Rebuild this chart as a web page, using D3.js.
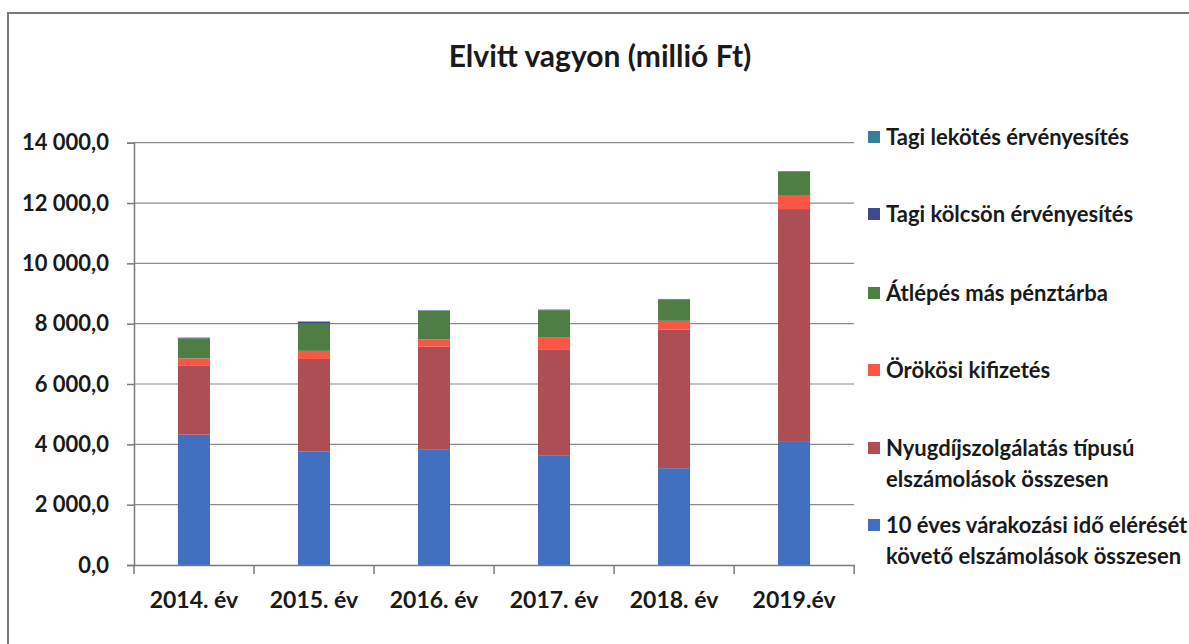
<!DOCTYPE html>
<html>
<head>
  <meta charset="utf-8">
  <script src="https://d3js.org/d3.v7.min.js"></script>
  <style>
    body { margin: 0; background: #fff; }
    text { font-family: Lato, "Open Sans", sans-serif; fill: #1a1a1a; }
  </style>
</head>
<body>
<script>
  // years on the x axis
  var years = ["2014. év", "2015. év", "2016. év", "2017. év", "2018. év", "2019.év"];

  // series, bottom of the stack first (millió Ft)
  var varakozasi = [4320, 3770, 3840, 3620, 3210, 4080];
  var nyugdij    = [2280, 3060, 3400, 3510, 4600, 7720];
  var orokosi    = [250, 270, 245, 405, 285, 440];
  var atlepes    = [660, 910, 940, 910, 705, 800];
  var kolcson    = [25, 60, 15, 20, 15, 15];
  var lekotes    = [5, 5, 5, 5, 5, 5];

  var yTicks = [0, 2000, 4000, 6000, 8000, 10000, 12000, 14000];

  var series = [
    {name: ["10 éves várakozási idő elérését", "követő elszámolások összesen"], values: varakozasi, color: "#4170C0"},
    {name: ["Nyugdíjszolgálatás típusú", "elszámolások összesen"], values: nyugdij, color: "#AD4E54"},
    {name: ["Örökösi kifizetés"], values: orokosi, color: "#FA5646"},
    {name: ["Átlépés más pénztárba"], values: atlepes, color: "#4F7E45"},
    {name: ["Tagi kölcsön érvényesítés"], values: kolcson, color: "#40498E"},
    {name: ["Tagi lekötés érvényesítés"], values: lekotes, color: "#347F9C"}
  ];

  var W = 1189, H = 644;
  var svg = d3.select("body").append("svg")
      .attr("width", W)
      .attr("height", H);

  // outer frame (only top and left edges are visible in the scan)
  svg.append("path")
    .attr("d", "M8,644 V13 H1189")
    .attr("fill", "none")
    .attr("stroke", "#7a7a7a")
    .attr("stroke-width", 2);

  svg.append("text")
    .attr("x", 600)
    .attr("y", 67)
    .attr("text-anchor", "middle")
    .style("font-size", "30px")
    .style("font-weight", "bold")
    .text("Elvitt vagyon (millió Ft)");

  var plotL = 134, plotR = 854, plotT = 142.7, plotB = 565;

  var x = d3.scaleBand().domain(years).range([plotL, plotR]).paddingInner(0.733).paddingOuter(0.366);
  var y = d3.scaleLinear().domain([0, 14000]).range([plotB, plotT]);

  // gridlines
  svg.append("g")
    .selectAll("line")
    .data(yTicks.slice(1))
    .join("line")
      .attr("x1", plotL).attr("x2", plotR)
      .attr("y1", function(d) { return y(d); })
      .attr("y2", function(d) { return y(d); })
      .attr("stroke", "#8c8c8c")
      .attr("stroke-width", 1.2);

  // stacked bars
  var stacked = d3.stack()
    .keys(d3.range(series.length))
    .value(function(d, k) { return series[k].values[d]; })(d3.range(years.length));

  svg.append("g")
    .selectAll("g")
    .data(stacked)
    .join("g")
      .attr("fill", function(d, i) { return series[i].color; })
    .selectAll("rect")
    .data(function(d) { return d; })
    .join("rect")
      .attr("x", function(d, i) { return x(years[i]); })
      .attr("width", x.bandwidth())
      .attr("y", function(d) { return y(d[1]); })
      .attr("height", function(d) { return y(d[0]) - y(d[1]); });

  // y axis
  var yAxis = d3.axisLeft(y)
    .tickValues(yTicks)
    .tickSize(7)
    .tickPadding(18)
    .tickFormat(function(d) {
      return d3.format(",.1f")(d).replace(",", " ").replace(".", ",");
    });

  var ga = svg.append("g")
    .attr("transform", "translate(" + plotL + ",0)")
    .call(yAxis);
  ga.select(".domain").attr("stroke", "#7a7a7a").attr("stroke-width", 1.5);
  ga.selectAll(".tick line").attr("stroke", "#7a7a7a").attr("stroke-width", 1.5);
  ga.selectAll("text")
    .style("font-size", "22px")
    .style("font-weight", "bold")
    .attr("fill", "#1a1a1a");

  // x axis
  var xAxis = d3.axisBottom(x).tickSize(0).tickPadding(27);
  var gx = svg.append("g")
    .attr("transform", "translate(0," + plotB + ")")
    .call(xAxis);
  gx.select(".domain").attr("stroke", "#7a7a7a").attr("stroke-width", 1.5);
  gx.selectAll("text")
    .style("font-size", "23px")
    .style("font-weight", "bold")
    .attr("fill", "#1a1a1a");

  // category boundary ticks
  var step = x.step();
  svg.append("g")
    .selectAll("line")
    .data(d3.range(years.length + 1))
    .join("line")
      .attr("x1", function(i) { return plotL + i * step; })
      .attr("x2", function(i) { return plotL + i * step; })
      .attr("y1", plotB)
      .attr("y2", plotB + 9)
      .attr("stroke", "#7a7a7a")
      .attr("stroke-width", 1.5);

  // legend, topmost series first
  var legendY = [137, 214, 293, 370, 448, 525];
  var legend = svg.append("g")
    .selectAll("g")
    .data(series.slice().reverse())
    .join("g")
      .attr("transform", function(d, i) { return "translate(868," + legendY[i] + ")"; });

  legend.append("rect")
    .attr("x", 0).attr("y", -6)
    .attr("width", 12).attr("height", 12)
    .attr("fill", function(d) { return d.color; });

  legend.append("text")
    .attr("x", 18)
    .attr("y", 8)
    .style("font-size", "22px")
    .style("font-weight", "bold")
    .selectAll("tspan")
    .data(function(d) { return d.name; })
    .join("tspan")
      .attr("x", 18)
      .attr("dy", function(d, i) { return i === 0 ? 0 : 31; })
      .text(function(d) { return d; });
</script>
</body>
</html>
